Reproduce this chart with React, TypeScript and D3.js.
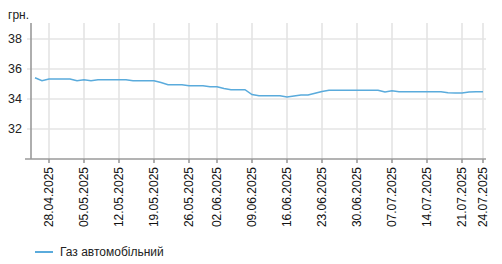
import React from "react";
import * as d3 from "d3";

const dates: string[] = [
  "24.04.2025", "25.04.2025",
  "28.04.2025", "29.04.2025", "30.04.2025", "01.05.2025", "02.05.2025",
  "05.05.2025", "06.05.2025", "07.05.2025", "08.05.2025", "09.05.2025",
  "12.05.2025", "13.05.2025", "14.05.2025", "15.05.2025", "16.05.2025",
  "19.05.2025", "20.05.2025", "21.05.2025", "22.05.2025", "23.05.2025",
  "26.05.2025", "27.05.2025", "28.05.2025", "30.05.2025",
  "02.06.2025", "03.06.2025", "04.06.2025", "05.06.2025", "06.06.2025",
  "09.06.2025", "10.06.2025", "11.06.2025", "12.06.2025", "13.06.2025",
  "16.06.2025", "17.06.2025", "18.06.2025", "19.06.2025", "20.06.2025",
  "23.06.2025", "24.06.2025", "25.06.2025", "26.06.2025", "27.06.2025",
  "30.06.2025", "01.07.2025", "02.07.2025", "03.07.2025", "04.07.2025",
  "07.07.2025", "08.07.2025", "09.07.2025", "10.07.2025", "11.07.2025",
  "14.07.2025", "15.07.2025", "16.07.2025", "17.07.2025", "18.07.2025",
  "21.07.2025", "22.07.2025", "23.07.2025", "24.07.2025",
];

const gasPrices: number[] = [
  35.42, 35.22,
  35.33, 35.33, 35.33, 35.33, 35.22,
  35.28, 35.22, 35.28, 35.28, 35.28,
  35.28, 35.28, 35.22, 35.22, 35.22,
  35.22, 35.1, 34.95, 34.95, 34.95,
  34.89, 34.89, 34.89, 34.82,
  34.82, 34.7, 34.62, 34.62, 34.62,
  34.3, 34.22, 34.22, 34.22, 34.22,
  34.13, 34.2, 34.27, 34.27, 34.38,
  34.5, 34.58, 34.58, 34.58, 34.58,
  34.58, 34.58, 34.58, 34.58, 34.47,
  34.55, 34.49, 34.49, 34.49, 34.49,
  34.49, 34.49, 34.49, 34.42, 34.4,
  34.4, 34.46, 34.49, 34.49,
];

const xTickLabels: string[] = [
  "28.04.2025", "05.05.2025", "12.05.2025", "19.05.2025", "26.05.2025",
  "02.06.2025", "09.06.2025", "16.06.2025", "23.06.2025", "30.06.2025",
  "07.07.2025", "14.07.2025", "21.07.2025", "24.07.2025",
];

const yTicks: number[] = [32, 34, 36, 38];
const seriesName = "Газ автомобільний";
const unitLabel = "грн.";

const W = 502;
const H = 264;
const FONT = "'Liberation Sans', Arial, sans-serif";
const LINE_COLOR = "#5aabdc";
const GRID = "#e4e4e4";
const AXIS = "#9a9a9a";

export default function App() {
  const x = d3.scalePoint<string>().domain(dates).range([35, 483]);
  const y = d3.scaleLinear().domain([30, 39]).range([159, 24]);
  const plotLeft = 31;
  const plotRight = 486;
  const plotTop = 23;
  const plotBottom = y(30);

  const line = d3
    .line<number>()
    .x((_, i) => x(dates[i]) as number)
    .y((d) => y(d));

  return (
    <svg
      width={W}
      height={H}
      style={{ position: "absolute", left: 0, top: 0, background: "#fff" }}
      fontFamily={FONT}
    >
      {/* horizontal grid */}
      {yTicks.map((t) => (
        <line
          key={"hg" + t}
          x1={plotLeft - 4}
          x2={plotRight}
          y1={y(t)}
          y2={y(t)}
          stroke={GRID}
          strokeWidth={1.6}
        />
      ))}
      {/* vertical grid */}
      {xTickLabels.map((d) => (
        <line
          key={"vg" + d}
          x1={x(d)}
          x2={x(d)}
          y1={plotTop}
          y2={plotBottom}
          stroke={GRID}
          strokeWidth={1.6}
        />
      ))}
      {/* axes */}
      <line x1={plotLeft} x2={plotLeft} y1={plotTop} y2={plotBottom} stroke={AXIS} strokeWidth={1.6} />
      <line x1={plotLeft - 6} x2={plotRight} y1={plotBottom} y2={plotBottom} stroke={AXIS} strokeWidth={1.6} />
      {/* y tick labels */}
      {yTicks.map((t) => (
        <text
          key={"yl" + t}
          x={22}
          y={y(t)}
          dy="0.35em"
          textAnchor="end"
          fontSize={12.5}
          fill="#222"
        >
          {t}
        </text>
      ))}
      <text x={8} y={19} fontSize={12} fill="#222">
        {unitLabel}
      </text>
      {/* x ticks and labels */}
      {xTickLabels.map((d) => {
        const xv = x(d) as number;
        return (
          <g key={"xt" + d}>
            <line x1={xv} x2={xv} y1={plotBottom} y2={plotBottom + 4} stroke={AXIS} strokeWidth={1.6} />
            <text
              transform={`translate(${xv},${plotBottom + 8}) rotate(-90)`}
              textAnchor="end"
              dy="0.35em"
              fontSize={12}
              fill="#111"
            >
              {d}
            </text>
          </g>
        );
      })}
      {/* series line */}
      <path d={line(gasPrices) || ""} fill="none" stroke={LINE_COLOR} strokeWidth={1.5} />
      {/* legend */}
      <line x1={35} x2={53} y1={252} y2={252} stroke={LINE_COLOR} strokeWidth={2} />
      <text x={60} y={256} fontSize={12} fill="#222">
        {seriesName}
      </text>
    </svg>
  );
}
